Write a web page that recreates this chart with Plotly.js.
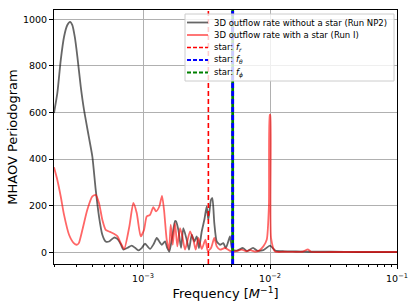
<!DOCTYPE html>
<html>
<head>
<meta charset="utf-8">
<script src="https://cdn.plot.ly/plotly-3.0.1.min.js"></script>
<style>
  body { margin: 0; }
  #myPlot { width: 415px; height: 308px; }
</style>
</head>
<body>
<div id="myPlot"></div>
<script>
// Run NP2 (no star) periodogram
const freqNP2 = [1.99e-4, 2.114e-4, 2.249e-4, 2.388e-4, 2.535e-4, 2.662e-4, 2.775e-4, 2.899e-4, 3.04e-4, 3.232e-4,
    3.43e-4, 3.756e-4, 3.99e-4, 4.24e-4, 4.5e-4, 4.78e-4, 5.08e-4, 5.4e-4, 5.91e-4, 6.27e-4,
    6.68e-4, 7.0e-4, 7.55e-4, 8.15e-4, 8.65e-4, 9.18e-4, 9.8e-4, 1.036e-3, 1.089e-3, 1.135e-3,
    1.21e-3, 1.282e-3, 1.35e-3, 1.404e-3, 1.49e-3, 1.55e-3, 1.611e-3, 1.69e-3, 1.786e-3, 1.819e-3,
    1.897e-3, 1.931e-3, 1.992e-3, 2.077e-3, 2.209e-3, 2.303e-3, 2.419e-3, 2.535e-3, 2.647e-3, 2.76e-3,
    2.899e-3, 3.04e-3, 3.174e-3, 3.268e-3, 3.43e-3, 3.513e-3, 3.642e-3, 3.805e-3, 4.04e-3, 4.29e-3,
    4.48e-3, 4.69e-3, 4.84e-3, 5.05e-3, 5.5e-3, 6.13e-3, 6.6e-3, 7.35e-3, 7.9e-3, 8.86e-3,
    1.0e-2, 1.1e-2, 1.3e-2, 1.6e-2, 2e-2, 3e-2, 5e-2, 1e-1];
const powNP2 = [598, 683, 825, 925, 975, 989, 975, 925, 840, 711,
    611, 491, 411, 268, 154, 76, 47, 47, 64, 58,
    35, 12, 20, 29, 20, 9, 20, 38, 25, 15,
    35, 62, 45, 33, 47, 20, 4, 60, 135, 133,
    97, 69, 20, 104, 54, 12, 76, 47, 69, 19,
    90, 140, 197, 140, 226, 233, 126, 47, 33, 40,
    19, 47, 69, 12, 8, 19, 6, 20, 8, 10,
    29, 8, 5, 4, 3, 3, 2, 2];

// Run I (with star) periodogram
const freqRunI = [1.99e-4, 2.114e-4, 2.249e-4, 2.388e-4, 2.614e-4, 2.85e-4, 3.006e-4, 3.12e-4, 3.33e-4, 3.64e-4,
    3.99e-4, 4.24e-4, 4.5e-4, 4.78e-4, 5.08e-4, 5.5e-4, 5.9e-4, 6.27e-4, 6.68e-4, 7.1e-4,
    7.8e-4, 8.39e-4, 8.92e-4, 9.59e-4, 1.018e-3, 1.069e-3, 1.135e-3, 1.205e-3, 1.266e-3, 1.343e-3,
    1.411e-3, 1.463e-3, 1.537e-3, 1.602e-3, 1.652e-3, 1.713e-3, 1.786e-3, 1.862e-3, 1.956e-3, 2.04e-3,
    2.142e-3, 2.345e-3, 2.49e-3, 2.6e-3, 2.725e-3, 2.899e-3, 3.1e-3, 3.232e-3, 3.43e-3, 3.642e-3,
    3.805e-3, 4.04e-3, 4.42e-3, 4.84e-3, 5.3e-3, 6.0e-3, 6.5e-3, 7.0e-3, 7.6e-3, 8.2e-3,
    8.86e-3, 9.42e-3, 9.8e-3, 9.95e-3, 1.005e-2, 1.02e-2, 1.095e-2, 1.3e-2, 1.8e-2, 1.99e-2,
    2.1e-2, 3e-2, 5e-2, 1e-1];
const powRunI = [365, 311, 240, 161, 76, 40, 33, 40, 97, 183,
    240, 247, 212, 140, 97, 88, 80, 70, 40, 15,
    111, 212, 169, 69, 97, 154, 161, 194, 176, 197,
    243, 183, 54, 12, 119, 33, 126, 26, 104, 69,
    12, 90, 54, 12, 62, 15, 55, 7, 19, 62,
    26, 12, 19, 7, 5, 12, 5, 10, 4, 8,
    26, 54, 200, 590, 590, 60, 4, 3, 3, 13,
    3, 2, 2, 2];

// star frequencies
const starFr = 3.27e-3;
const starFtheta = 5.08e-3;
const starFphi = 5.08e-3;

const yRange = [-49.5, 1039.5];
const xTicks = [1e-3, 1e-2, 1e-1];
const xTickText = ['10<sup>\u22123</sup>', '10<sup>\u22122</sup>', '10<sup>\u22121</sup>'];

const legendLabels = [
    '3D outflow rate without a star (Run NP2)',
    '3D outflow rate with a star (Run I)',
    'star: <i>f<sub>r</sub></i>',
    'star: <i>f<sub>\u03b8</sub></i>',
    'star: <i>f<sub>\u03d5</sub></i>',
];

const grayLine = {color: 'rgba(0,0,0,0.6)', width: 1.8, shape: 'spline', smoothing: 0.6};
const redLine = {color: 'rgba(255,0,0,0.6)', width: 1.8, shape: 'spline', smoothing: 0.6};
const frLine = {color: 'red', width: 1.6, dash: '5px,3px'};
const fthetaLine = {color: 'blue', width: 2.8, dash: '5px,3px'};
const fphiLine = {color: 'green', width: 2.8, dash: '5px,3px'};

// minor log ticks 2..9 in each decade
const minorTicks = [];
for (let d = -4; d <= -2; d++) {
    for (let m = 2; m <= 9; m++) minorTicks.push(m * Math.pow(10, d));
}

const data = [
    {x: freqNP2, y: powNP2, mode: 'lines', type: 'scatter', name: legendLabels[0], line: grayLine},
    {x: freqRunI, y: powRunI, mode: 'lines', type: 'scatter', name: legendLabels[1], line: redLine},
    {x: [starFr, starFr], y: yRange, mode: 'lines', type: 'scatter', name: legendLabels[2], line: frLine},
    // green under blue so the blue gaps show green
    {x: [starFphi, starFphi], y: yRange, mode: 'lines', type: 'scatter', name: legendLabels[4],
     line: {color: 'green', width: 2.8}},
    {x: [starFtheta, starFtheta], y: yRange, mode: 'lines', type: 'scatter', name: legendLabels[3], line: fthetaLine},
];

// hand-drawn legend (matplotlib-like compact rows), placed in plot-area paper coords
const plotL = 54, plotR = 397, plotT = 10, plotB = 264;
const px = v => (v - plotL) / (plotR - plotL);
const py = v => (plotB - v) / (plotB - plotT);

const shapes = [{
    type: 'rect', xref: 'paper', yref: 'paper', layer: 'above',
    x0: px(185), x1: px(394), y0: py(81), y1: py(14),
    fillcolor: 'rgba(255,255,255,0.8)',
    line: {color: '#cccccc', width: 1},
}];
const annotations = [];
const legendStyles = [grayLine, redLine, frLine, fthetaLine, fphiLine];
legendLabels.forEach((label, i) => {
    const rowY = 22.5 + i * 12.5;
    const st = legendStyles[i];
    shapes.push({
        type: 'line', xref: 'paper', yref: 'paper', layer: 'above',
        x0: px(187), x1: px(208), y0: py(rowY), y1: py(rowY),
        line: {color: st.color, width: st.width > 2 ? 1.8 : st.width, dash: st.dash ? '4px,2px' : 'solid'},
    });
    annotations.push({
        xref: 'paper', yref: 'paper', x: px(212), y: py(rowY),
        xanchor: 'left', yanchor: 'middle', showarrow: false,
        text: label, font: {size: 8.5, family: 'DejaVu Sans', color: 'black'},
    });
});

const layout = {
    width: 415,
    height: 308,
    margin: {l: plotL, r: 415 - plotR, t: plotT, b: 308 - plotB},
    font: {family: 'DejaVu Sans', color: 'black', size: 9.5},
    showlegend: false,
    shapes: shapes,
    annotations: annotations,
    xaxis: {
        type: 'log',
        range: [Math.log10(1.99e-4), -1],
        tickmode: 'array',
        tickvals: xTicks,
        ticktext: xTickText,
        ticks: 'outside', ticklen: 4, tickcolor: 'black',
        ticklabelstandoff: 2,
        showgrid: true, gridcolor: '#b0b0b0', gridwidth: 1,
        minor: {tickmode: 'array', tickvals: minorTicks, ticks: 'outside', ticklen: 2, tickcolor: 'black', showgrid: false},
        showline: true, linecolor: 'black', linewidth: 1, mirror: true,
        zeroline: false,
        title: {text: 'Frequency [<i>M</i><sup>\u22121</sup>]', font: {size: 13}, standoff: 5},
    },
    yaxis: {
        range: yRange,
        tickvals: [0, 200, 400, 600, 800, 1000],
        ticks: 'outside', ticklen: 4, tickcolor: 'black',
        showgrid: true, gridcolor: '#b0b0b0', gridwidth: 1,
        showline: true, linecolor: 'black', linewidth: 1, mirror: true,
        zeroline: false,
        title: {text: 'MHAOV Periodogram', font: {size: 13}, standoff: 2},
    },
    paper_bgcolor: 'white',
    plot_bgcolor: 'white',
};

Plotly.newPlot('myPlot', data, layout, {displayModeBar: false, staticPlot: true});
</script>
</body>
</html>
